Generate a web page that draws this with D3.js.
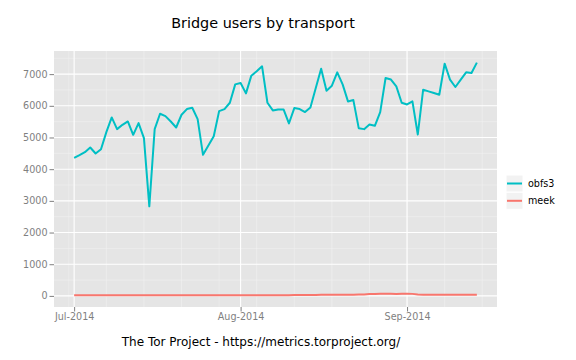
<!DOCTYPE html>
<html>
<head>
<meta charset="utf-8">
<script src="https://cdn.jsdelivr.net/npm/d3@7"></script>
<style>
  html, body { margin: 0; padding: 0; background: #fff; }
  svg { display: block; font-family: "DejaVu Sans", sans-serif; }
</style>
</head>
<body>
<svg id="chart" width="576" height="360"></svg>
<script>
// ---- data ----
const startDate = "2014-07-01";
const obfs3 = [4357, 4441, 4536, 4684, 4494, 4631, 5169, 5633, 5264, 5401,
  5506, 5084, 5454, 4979, 2827, 5264, 5749, 5675, 5506, 5316,
  5718, 5897, 5939, 5580, 4452, 4747, 5042, 5833, 5897, 6097,
  6677, 6719, 6392, 6952, 7089, 7247, 6097, 5854, 5886, 5886,
  5443, 5928, 5897, 5802, 5949, 6561, 7173, 6477, 6635, 7057,
  6677, 6139, 6181, 5295, 5264, 5411, 5369, 5802, 6878, 6830,
  6614, 6097, 6044, 6139, 5095, 6509, 6456, 6403, 6350, 7331,
  6825, 6593, 6825, 7057, 7036, 7363];
const meek = [18, 18, 17, 18, 18, 19, 18, 18, 19, 18,
  18, 19, 19, 18, 20, 19, 19, 20, 19, 20,
  20, 20, 19, 20, 20, 21, 20, 21, 20, 21,
  21, 20, 21, 20, 21, 22, 21, 21, 22, 21,
  22, 25, 27, 28, 30, 32, 33, 35, 36, 38,
  38, 40, 40, 42, 45, 58, 62, 66, 68, 65,
  62, 68, 66, 64, 45, 35, 34, 34, 33, 34,
  35, 35, 36, 35, 36, 37];
const seriesNames = ["obfs3", "meek"];
const seriesColors = ["#00BFC4", "#F8766D"];
const yTicks = [0, 1000, 2000, 3000, 4000, 5000, 6000, 7000];
const xTickDates = ["2014-07-01", "2014-08-01", "2014-09-01"];
const xTickLabels = ["Jul-2014", "Aug-2014", "Sep-2014"];
const title = "Bridge users by transport";
const caption = "The Tor Project - https://metrics.torproject.org/";

// ---- build ----
const parse = d3.utcParse("%Y-%m-%d");
const t0 = parse(startDate);
const dates = obfs3.map((_, i) => d3.utcDay.offset(t0, i));
const seriesData = [obfs3, meek];

const svg = d3.select("#chart");
const P = { left: 54, right: 497, top: 51, bottom: 307 };

// ggplot-style 5% expansion
const xExt = d3.extent(dates);
const xSpan = xExt[1] - xExt[0];
const x = d3.scaleUtc()
  .domain([new Date(+xExt[0] - xSpan * 0.05), new Date(+xExt[1] + xSpan * 0.05)])
  .range([P.left, P.right]);
const allVals = obfs3.concat(meek);
const yMin = d3.min(allVals), yMax = d3.max(allVals);
const ySpan = yMax - yMin;
const y = d3.scaleLinear()
  .domain([yMin - ySpan * 0.05, yMax + ySpan * 0.05])
  .range([P.bottom, P.top]);

// panel background
svg.append("rect")
  .attr("x", P.left).attr("y", P.top)
  .attr("width", P.right - P.left).attr("height", P.bottom - P.top)
  .attr("fill", "#E5E5E5");

const grid = svg.append("g");
// minor y grid
const yMinor = d3.range(500, 8000, 1000).filter(v => y(v) >= P.top && y(v) <= P.bottom);
grid.selectAll(".ymin").data(yMinor).enter().append("line")
  .attr("x1", P.left).attr("x2", P.right)
  .attr("y1", d => y(d)).attr("y2", d => y(d))
  .attr("stroke", "#F2F2F2").attr("stroke-width", 0.55);
// minor x grid (weekly, Mondays)
const xMinor = d3.utcMonday.range(x.domain()[0], x.domain()[1]);
grid.selectAll(".xmin").data(xMinor).enter().append("line")
  .attr("y1", P.top).attr("y2", P.bottom)
  .attr("x1", d => x(d)).attr("x2", d => x(d))
  .attr("stroke", "#F2F2F2").attr("stroke-width", 0.55);
// major grid
grid.selectAll(".ymaj").data(yTicks).enter().append("line")
  .attr("x1", P.left).attr("x2", P.right)
  .attr("y1", d => y(d)).attr("y2", d => y(d))
  .attr("stroke", "#FFFFFF").attr("stroke-width", 1.1);
const xMajor = xTickDates.map(parse);
grid.selectAll(".xmaj").data(xMajor).enter().append("line")
  .attr("y1", P.top).attr("y2", P.bottom)
  .attr("x1", d => x(d)).attr("x2", d => x(d))
  .attr("stroke", "#FFFFFF").attr("stroke-width", 1.1);

// lines
const line = d3.line().x((d, i) => x(dates[i])).y(d => y(d));
seriesData.forEach((s, k) => {
  svg.append("path")
    .datum(s)
    .attr("d", line)
    .attr("fill", "none")
    .attr("stroke", seriesColors[k])
    .attr("stroke-width", 2)
    .attr("stroke-linejoin", "round");
});

// axes
const yAxis = d3.axisLeft(y).tickValues(yTicks).tickSize(4.5).tickPadding(2)
  .tickFormat(d3.format("d"));
const gy = svg.append("g").attr("transform", `translate(${P.left},0)`).call(yAxis);
const xAxis = d3.axisBottom(x).tickValues(xMajor).tickSize(4.5).tickPadding(2)
  .tickFormat((d, i) => xTickLabels[i]);
const gx = svg.append("g").attr("transform", `translate(0,${P.bottom})`).call(xAxis);
[gx, gy].forEach(g => {
  g.select(".domain").remove();
  g.selectAll(".tick line").attr("stroke", "#7F7F7F").attr("stroke-width", 1);
  g.selectAll(".tick text")
    .attr("fill", "#7F7F7F")
    .style("font-family", "DejaVu Sans, sans-serif")
    .style("font-size", "9.6px");
});

// title and caption
svg.append("text")
  .attr("x", 263).attr("y", 28)
  .attr("text-anchor", "middle")
  .style("font-size", "14.4px").attr("fill", "#000")
  .text(title);
svg.append("text")
  .attr("x", 261).attr("y", 346)
  .attr("text-anchor", "middle")
  .style("font-size", "12px").attr("fill", "#000")
  .text(caption);

// legend
const lg = svg.append("g").attr("transform", "translate(506,175)");
seriesNames.forEach((name, k) => {
  const g = lg.append("g").attr("transform", `translate(0,${k * 17.3})`);
  g.append("rect").attr("x", 0).attr("y", 0).attr("width", 17).attr("height", 17)
    .attr("fill", "#F2F2F2").attr("stroke", "#FFFFFF").attr("stroke-width", 1);
  g.append("line").attr("x1", 1).attr("x2", 16).attr("y1", 8.5).attr("y2", 8.5)
    .attr("stroke", seriesColors[k]).attr("stroke-width", 2);
  g.append("text").attr("x", 22).attr("y", 8.5).attr("dy", "0.35em")
    .style("font-size", "9.6px").attr("fill", "#000")
    .text(name);
});
</script>
</body>
</html>
